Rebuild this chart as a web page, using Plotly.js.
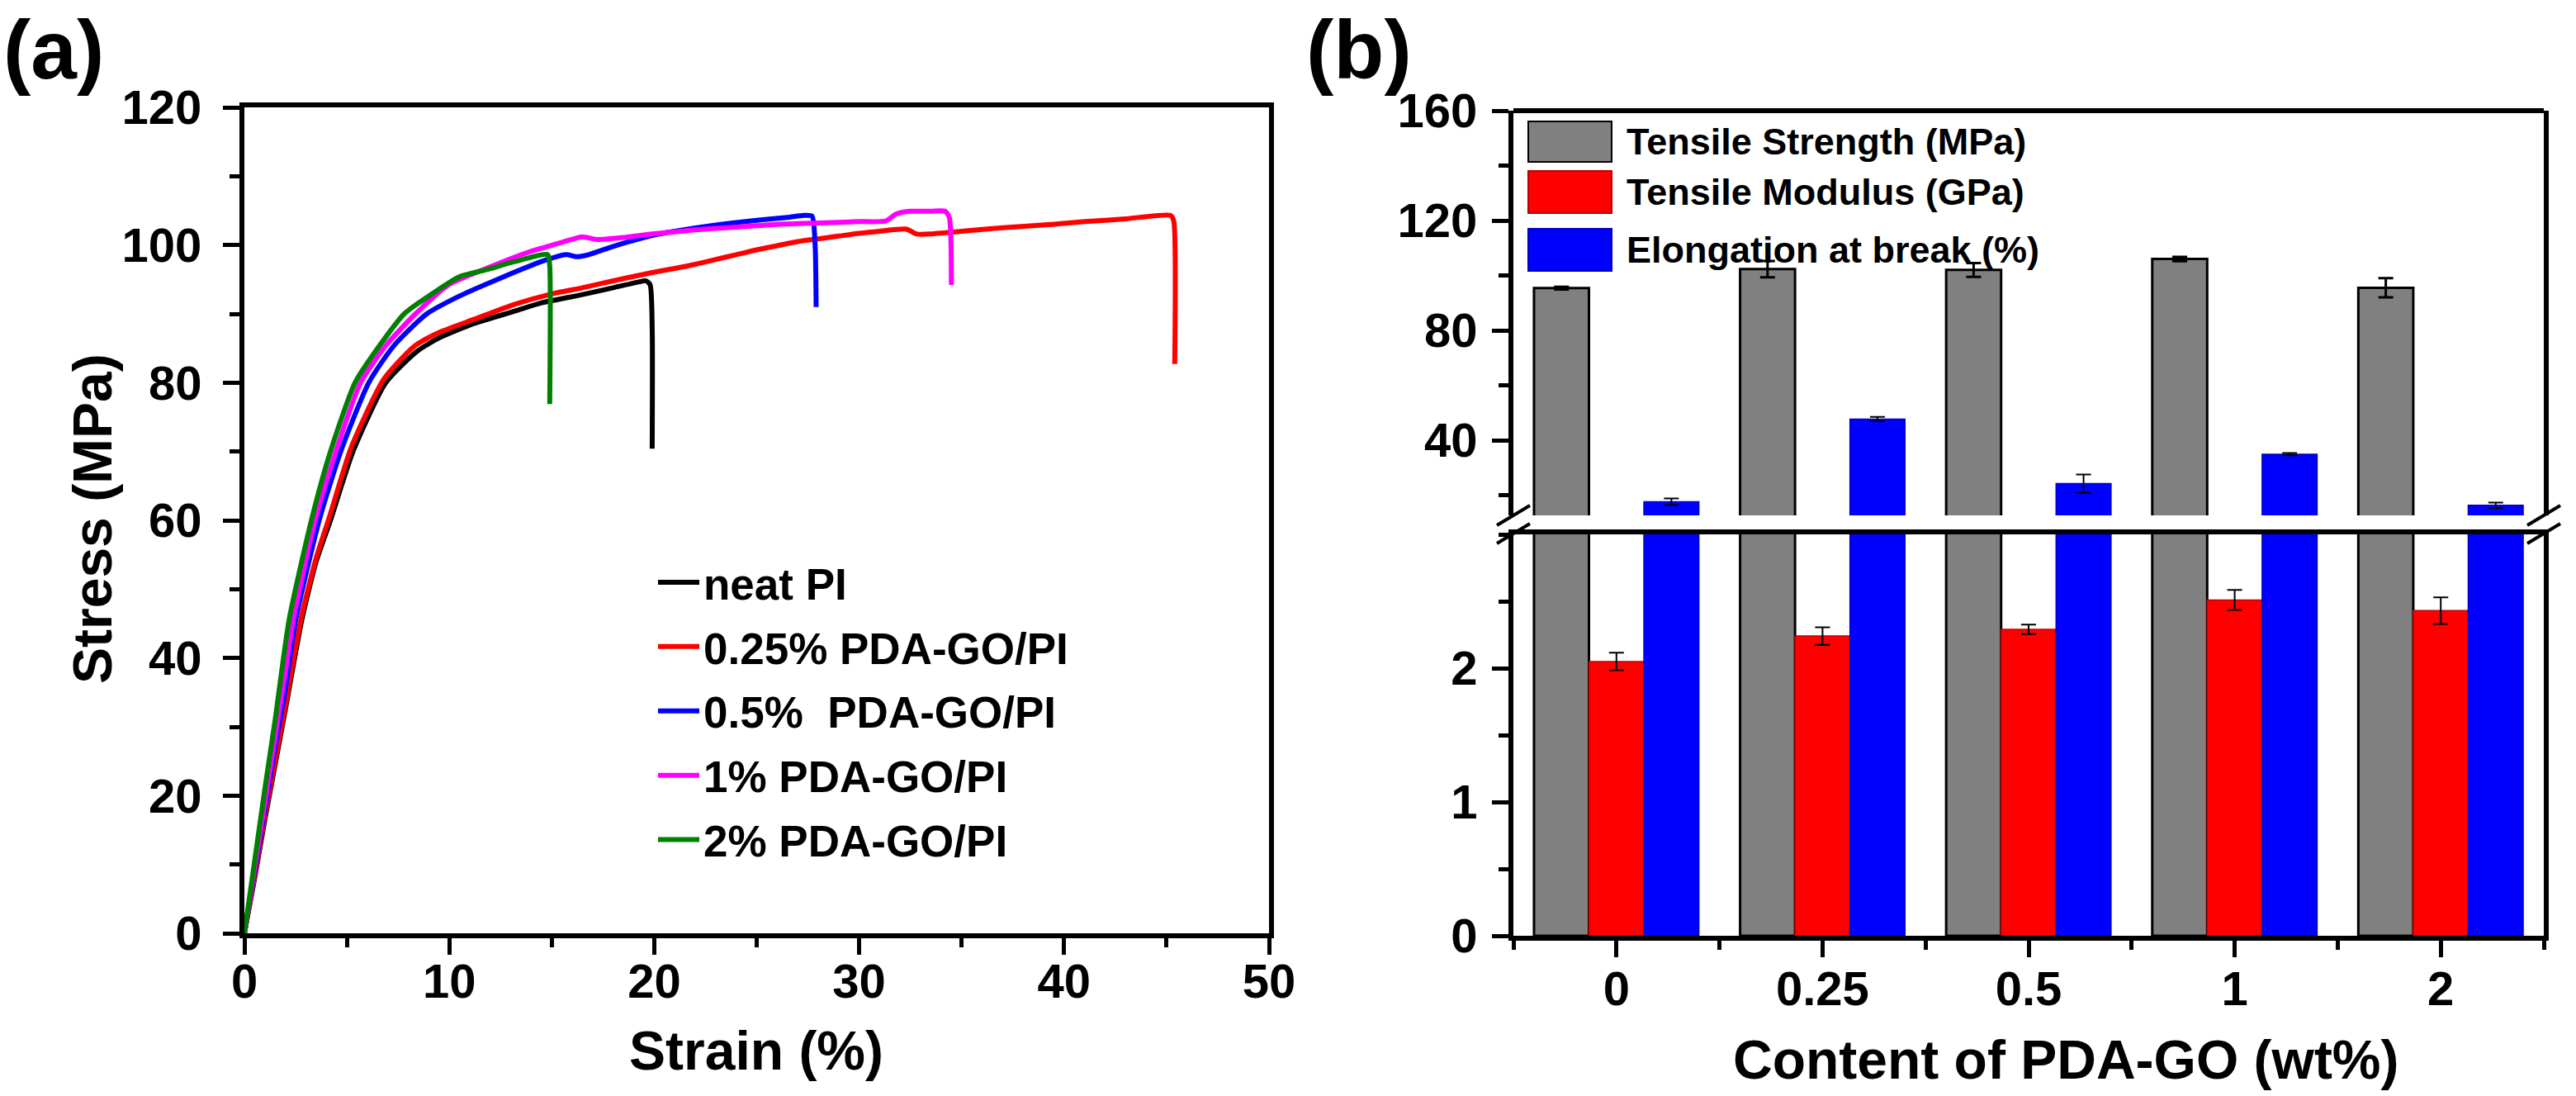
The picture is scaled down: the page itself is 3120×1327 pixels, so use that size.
<!DOCTYPE html>
<html>
<head>
<meta charset="utf-8">
<script src="https://cdn.plot.ly/plotly-3.0.1.min.js"></script>
<style>
  html, body { margin: 0; padding: 0; background: #fff; }
  #chart { width: 3120px; height: 1327px; }
</style>
</head>
<body>
<div id="chart"></div>
<script>
// (a) stress-strain curves
var neatStrain = [0, 0.5, 1, 1.5, 2, 2.8, 3.5, 4.2, 5.3, 6.9, 8.4, 9.5, 11.2, 13.2, 14.5, 16.5, 18, 19.2, 19.6, 19.8, 19.9, 19.9];
var neatStress = [0, 8, 16.5, 24.5, 32.5, 45.5, 54, 60, 70, 80, 84.5, 86.5, 88.6, 90.4, 91.6, 92.8, 93.8, 94.6, 94.8, 94.2, 88, 70.4];

var go025Strain = [0, 0.5, 1, 1.5, 2, 2.75, 3.5, 4.15, 5.2, 6.8, 8.3, 9.5, 11.2, 13.2, 15, 16.5, 18, 19.9, 21, 22, 23, 24, 25, 26, 27, 28, 29, 30, 31, 32.3, 32.8, 33.5, 35, 37, 39.4, 41, 43, 45.2, 45.35, 45.4];
var go025Stress = [0, 8.3, 17, 25, 33, 45.5, 54.5, 60.5, 70.5, 80.5, 85.3, 87.3, 89.2, 91.4, 92.9, 93.8, 94.8, 96, 96.6, 97.2, 97.9, 98.6, 99.3, 99.9, 100.5, 100.9, 101.3, 101.7, 102, 102.3, 101.6, 101.6, 102, 102.5, 103, 103.4, 103.8, 104.3, 103.5, 82.7];

var go05Strain = [0, 0.5, 1, 1.5, 2, 2.5, 3.65, 4.7, 6.07, 7.3, 8.9, 10.5, 12.5, 14.5, 15.7, 16.2, 16.8, 18, 19.9, 21, 23, 25, 26.5, 27.3, 27.7, 27.85, 27.9];
var go05Stress = [0, 9, 18, 27, 35.5, 45.5, 60, 70, 80, 85.4, 90, 92.6, 95.2, 97.6, 98.6, 98.3, 98.6, 99.8, 101.4, 102, 102.9, 103.6, 104, 104.3, 104.2, 100, 91];

var go1Strain = [0, 0.5, 1, 1.5, 2, 2.38, 3.45, 4.46, 5.67, 6.9, 8.35, 9.96, 11.8, 13.9, 15.5, 16.5, 17.2, 18.5, 19.9, 22, 24, 26, 28, 30, 31.3, 31.8, 32.5, 33.5, 34.2, 34.4, 34.5];
var go1Stress = [0, 9.5, 19, 28.5, 38, 45.5, 60, 70, 80, 85.4, 90, 94.2, 96.6, 99, 100.4, 101.2, 100.8, 101.1, 101.6, 102.2, 102.6, 103, 103.2, 103.4, 103.5, 104.5, 104.9, 104.9, 104.9, 104, 94.2];

var go2Strain = [0, 0.5, 1, 1.5, 2.18, 3.27, 4.2, 5.4, 6.6, 7.8, 9.4, 10.5, 11.8, 13.2, 14.8, 14.9, 14.9];
var go2Stress = [0, 10.5, 21, 31, 45.5, 60, 70, 80, 85.4, 90, 93.4, 95.4, 96.4, 97.6, 98.6, 97, 76.9];

// (b) mechanical properties vs content
var contentLabels = ['0', '0.25', '0.5', '1', '2'];
var contentPos = [0, 1, 2, 3, 4];
var strength = [95.4, 102.3, 102.0, 106.0, 95.5];
var strengthErr = [0.5, 3.0, 2.5, 0.8, 3.5];
var modulus = [2.05, 2.24, 2.29, 2.51, 2.43];
var modulusErr = [0.065, 0.065, 0.035, 0.075, 0.1];
var elongation = [17.6, 47.7, 24.2, 34.9, 16.3];
var elongationErr = [1.2, 0.8, 3.3, 0.4, 1.0];

var W = 3120, H = 1327;
function px(v) { return v / W; }
function py(v) { return 1 - v / H; }

var FONT = 'Liberation Sans, Arial, Helvetica, sans-serif';

function curve(x, y, name, color) {
  return {
    x: x, y: y, name: name, legendgroup: name,
    type: 'scatter', mode: 'lines',
    line: { color: color, width: 6, shape: 'spline', smoothing: 0.6 },
    xaxis: 'x', yaxis: 'y'
  };
}

function bars(vals, errs, color, lineColor, lineW, errW, yaxis) {
  return {
    x: contentPos, y: vals, type: 'bar', showlegend: false,
    xaxis: 'x2', yaxis: yaxis,
    marker: { color: color, line: { color: lineColor, width: lineW } },
    error_y: { type: 'data', array: errs, visible: true, color: '#000', thickness: errW, width: 9 }
  };
}

var data = [
  curve(neatStrain, neatStress, 'neat PI', '#000000'),
  curve(go025Strain, go025Stress, '0.25% PDA-GO/PI', '#ff0000'),
  curve(go05Strain, go05Stress, '0.5%  PDA-GO/PI', '#0000ff'),
  curve(go1Strain, go1Stress, '1% PDA-GO/PI', '#ff00ff'),
  curve(go2Strain, go2Stress, '2% PDA-GO/PI', '#008000'),
  bars(strength, strengthErr, '#808080', '#000000', 3, 3, 'y2'),
  bars(modulus, modulusErr, '#ff0000', '#c00000', 1.5, 2, 'y2'),
  bars(elongation, elongationErr, '#0000ff', '#0000c0', 1.5, 2, 'y2'),
  bars(strength, strengthErr, '#808080', '#000000', 3, 3, 'y3'),
  bars(modulus, modulusErr, '#ff0000', '#c00000', 1.5, 2, 'y3'),
  bars(elongation, elongationErr, '#0000ff', '#0000c0', 1.5, 2, 'y3')
];

var axisBase = {
  showline: true, linecolor: '#000', linewidth: 6, mirror: true,
  ticks: 'outside', ticklen: 20, tickwidth: 5, tickcolor: '#000',
  showgrid: false, zeroline: false,
  tickfont: { family: FONT, size: 58, color: '#000', weight: 'bold' }
};

function axis(extra) { return Object.assign({}, axisBase, extra); }

var titleFont = { family: FONT, size: 66, color: '#000', weight: 'bold' };

// bar legend of panel (b), drawn by hand so the swatches can be large
var barLegend = [
  { text: 'Tensile Strength (MPa)', fill: '#808080', edge: '#000', top: 147, bottom: 196 },
  { text: 'Tensile Modulus (GPa)', fill: '#ff0000', edge: '#c00000', top: 207, bottom: 258 },
  { text: 'Elongation at break (%)', fill: '#0000ff', edge: '#0000c0', top: 277, bottom: 328 }
];

var shapes = [
  // top border of panel (b)
  { type: 'line', xref: 'paper', yref: 'paper', x0: px(1833), x1: px(3081), y0: py(134), y1: py(134), line: { color: '#000', width: 6 } }
];
// axis break marks
[1833, 3081].forEach(function (xa) {
  [624, 646].forEach(function (yb) {
    shapes.push({ type: 'line', xref: 'paper', yref: 'paper',
      x0: px(xa - 20), y0: py(yb + 12), x1: px(xa + 20), y1: py(yb - 12),
      line: { color: '#000', width: 4 } });
  });
});

var annotations = [
  { text: '(a)', xref: 'paper', yref: 'paper', x: px(2), y: py(2), xanchor: 'left', yanchor: 'top', showarrow: false,
    font: { family: FONT, size: 100, color: '#000', weight: 'bold' } },
  { text: '(b)', xref: 'paper', yref: 'paper', x: px(1580), y: py(2), xanchor: 'left', yanchor: 'top', showarrow: false,
    font: { family: FONT, size: 100, color: '#000', weight: 'bold' } },
  { text: 'Stress (MPa)', xref: 'paper', yref: 'paper', x: px(112), y: py(628), xanchor: 'center', yanchor: 'middle',
    textangle: -90, showarrow: false, font: titleFont },
  { text: 'Strain (%)', xref: 'paper', yref: 'paper', x: px(916), y: py(1272), xanchor: 'center', yanchor: 'middle',
    showarrow: false, font: titleFont },
  { text: 'Content of PDA-GO (wt%)', xref: 'paper', yref: 'paper', x: px(2502), y: py(1283), xanchor: 'center', yanchor: 'middle',
    showarrow: false, font: titleFont }
];

barLegend.forEach(function (e) {
  shapes.push({ type: 'rect', xref: 'paper', yref: 'paper', x0: px(1851), x1: px(1952), y0: py(e.bottom), y1: py(e.top),
    fillcolor: e.fill, line: { color: e.edge, width: 2 } });
  annotations.push({ text: e.text, xref: 'paper', yref: 'paper', x: px(1968), y: py((e.top + e.bottom) / 2),
    xanchor: 'left', yanchor: 'middle', showarrow: false,
    font: { family: FONT, size: 45, color: '#000', weight: 'bold' } });
});

var layout = {
  width: W, height: H,
  margin: { l: 0, r: 0, t: 0, b: 0 },
  paper_bgcolor: '#fff', plot_bgcolor: '#fff',
  font: { family: FONT, color: '#000' },
  barmode: 'group', bargap: 0.2, bargroupgap: 0,
  showlegend: true,
  legend: {
    x: px(792), y: py(664), xanchor: 'left', yanchor: 'top',
    bgcolor: 'rgba(0,0,0,0)', borderwidth: 0,
    itemwidth: 50, tracegroupgap: 6,
    font: { family: FONT, size: 53, color: '#000', weight: 'bold' }
  },
  xaxis: axis({
    domain: [px(296), px(1537)], range: [0, 50], anchor: 'y',
    tickvals: [0, 10, 20, 30, 40, 50],
    minor: { ticks: 'outside', tick0: 0, dtick: 5, ticklen: 11, tickwidth: 5, tickcolor: '#000' },
    ticklabelstandoff: -18
  }),
  yaxis: axis({
    domain: [py(1130), py(130)], range: [0, 120], anchor: 'x',
    tickvals: [0, 20, 40, 60, 80, 100, 120],
    minor: { ticks: 'outside', tick0: 0, dtick: 10, ticklen: 12, tickwidth: 5, tickcolor: '#000' },
    ticklabelstandoff: 14
  }),
  xaxis2: axis({
    domain: [px(1833), px(3081)], range: [-0.5, 4.5], anchor: 'y3',
    tickvals: contentPos, ticktext: contentLabels,
    minor: { ticks: 'outside', tick0: 0.5, dtick: 1, ticklen: 11, tickwidth: 5, tickcolor: '#000' },
    ticklabelstandoff: -12
  }),
  yaxis2: axis({
    domain: [py(624), py(134)], range: [12.63, 160], anchor: 'x2',
    tickvals: [40, 80, 120, 160],
    minor: { ticks: 'outside', tick0: 0, dtick: 20, ticklen: 12, tickwidth: 5, tickcolor: '#000' },
    ticklabelstandoff: 6
  }),
  yaxis3: axis({
    domain: [py(1133), py(647)], range: [0, 3], anchor: 'x2',
    tickvals: [0, 1, 2],
    minor: { ticks: 'outside', tick0: 0, dtick: 0.5, ticklen: 12, tickwidth: 5, tickcolor: '#000' },
    ticklabelstandoff: 6
  }),
  shapes: shapes,
  annotations: annotations
};

Plotly.newPlot('chart', data, layout, { displayModeBar: false, staticPlot: true });
</script>
</body>
</html>
